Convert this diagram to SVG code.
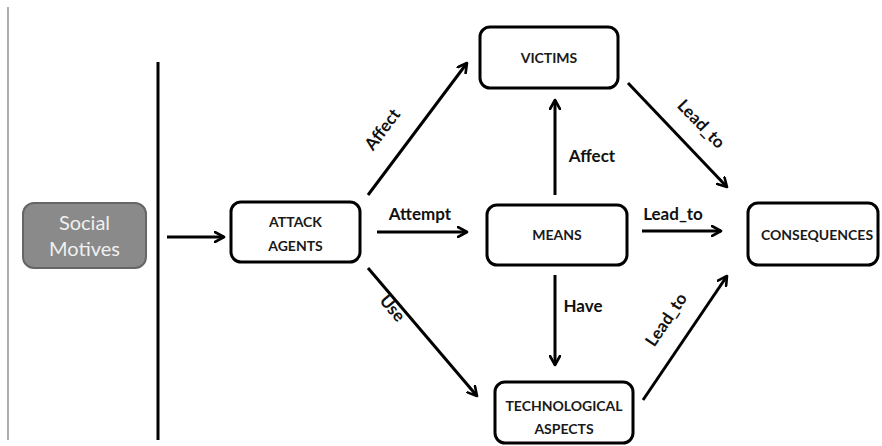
<svg xmlns="http://www.w3.org/2000/svg" width="882" height="446" viewBox="0 0 882 446">
<defs>
<marker id="ah" viewBox="0 0 12 12" refX="10" refY="6" markerWidth="12" markerHeight="12" markerUnits="userSpaceOnUse" orient="auto">
<path d="M1,1 L10,6 L1,11" fill="none" stroke="#000" stroke-width="2.6" stroke-linecap="round" stroke-linejoin="round"/>
</marker>
<style>
.node{fill:#fff;stroke:#000;stroke-width:3}
.nt{font-family:Lato,"Open Sans",sans-serif;font-weight:bold;font-size:14px;fill:#1a1a1a;text-anchor:middle}
.lb{font-family:Lato,"Open Sans",sans-serif;font-weight:bold;font-size:17px;fill:#111;text-anchor:middle}
.ln{stroke:#000;stroke-width:3;fill:none;marker-end:url(#ah)}
</style>
</defs>
<rect width="882" height="446" fill="#fff"/>
<line x1="8" y1="7" x2="8" y2="440" stroke="#777" stroke-width="1.2"/>
<line x1="158" y1="62" x2="158" y2="440" stroke="#000" stroke-width="3"/>
<g id="social-motives">
<rect x="23" y="203" width="123" height="65" rx="11" fill="#8a8a8a" stroke="#666" stroke-width="2"/>
<text x="84.5" y="230" font-family="Lato,'Open Sans',sans-serif" font-size="20" fill="#f0f0f0" text-anchor="middle">Social</text>
<text x="84.5" y="256" font-family="Lato,'Open Sans',sans-serif" font-size="20" fill="#f0f0f0" text-anchor="middle">Motives</text>
</g>
<g id="attack-agents">
<rect class="node" x="231" y="202" width="129" height="60" rx="10"/>
<text class="nt" x="295.5" y="227">ATTACK</text>
<text class="nt" x="295.5" y="251">AGENTS</text>
</g>
<g id="victims">
<rect class="node" x="480" y="27" width="138" height="61" rx="10"/>
<text class="nt" x="549" y="63">VICTIMS</text>
</g>
<g id="means">
<rect class="node" x="487" y="205" width="140" height="60" rx="10"/>
<text class="nt" x="557" y="240">MEANS</text>
</g>
<g id="consequences">
<rect class="node" x="748" y="203" width="130" height="62" rx="10"/>
<text class="nt" x="817" y="240">CONSEQUENCES</text>
</g>
<g id="technological-aspects">
<rect class="node" x="495" y="382" width="138" height="61" rx="10"/>
<text class="nt" x="564" y="411">TECHNOLOGICAL</text>
<text class="nt" x="564" y="434">ASPECTS</text>
</g>
<g id="connectors">
<line class="ln" x1="167" y1="237" x2="224" y2="237"/>
<line class="ln" x1="377" y1="232" x2="467" y2="232"/>
<line class="ln" x1="368" y1="195" x2="467" y2="63"/>
<line class="ln" x1="368" y1="268" x2="477" y2="396"/>
<line class="ln" x1="555" y1="195" x2="555" y2="100"/>
<line class="ln" x1="555" y1="275" x2="555" y2="365"/>
<line class="ln" x1="642" y1="231" x2="721" y2="231"/>
<line class="ln" x1="628" y1="83" x2="727" y2="187"/>
<line class="ln" x1="643" y1="400" x2="727" y2="276"/>
</g>
<g id="labels">
<text class="lb" x="420" y="220">Attempt</text>
<text class="lb" transform="translate(387,133) rotate(-53)">Affect</text>
<text class="lb" transform="translate(388,312) rotate(50)">Use</text>
<text class="lb" x="592" y="162">Affect</text>
<text class="lb" x="583" y="312">Have</text>
<text class="lb" x="673" y="220">Lead_to</text>
<text class="lb" transform="translate(697,128) rotate(46)">Lead_to</text>
<text class="lb" transform="translate(671,323) rotate(-56)">Lead_to</text>
</g>
</svg>
